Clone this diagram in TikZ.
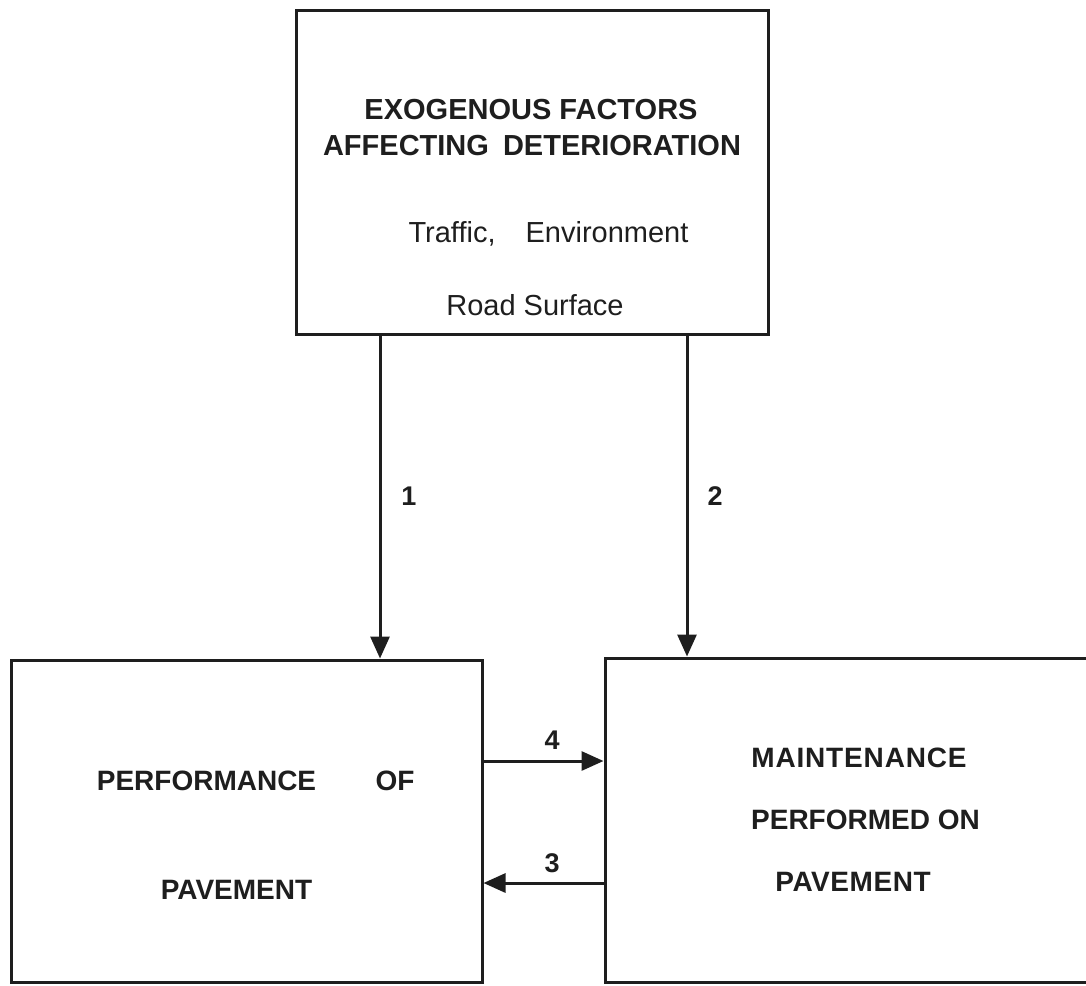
\documentclass[tikz,border=0pt]{standalone}
\usepackage{fontspec}
\setmainfont{Liberation Sans}
\usetikzlibrary{arrows.meta}
\definecolor{ink}{HTML}{1E1E1E}
\tikzset{
  box/.style={draw=ink, line width=3pt, rectangle, inner sep=0pt},
  conn/.style={draw=ink, line width=3pt, -{Triangle[length=22pt,width=19pt]}},
  head/.style={anchor=base, text=ink, font=\fontsize{29}{34}\selectfont\bfseries, inner sep=0pt},
  sub/.style={anchor=base, text=ink, font=\fontsize{29}{34}\selectfont, inner sep=0pt},
  body/.style={anchor=base, text=ink, font=\fontsize{28}{34}\selectfont\bfseries, inner sep=0pt},
  num/.style={anchor=base, text=ink, font=\fontsize{27}{32}\selectfont\bfseries, inner sep=0pt}
}
\begin{document}
\begin{tikzpicture}[x=1pt,y=-1pt]
\useasboundingbox (0,0) rectangle (1086,985);
\clip (0,0) rectangle (1086,985);
% boxes
\node[box, minimum width=472pt, minimum height=324pt] (top) at (532,172) {};
\node[box, minimum width=471pt, minimum height=322pt] (left) at (246.5,821) {};
\node[box, minimum width=540pt, minimum height=324pt] (right) at (875,820) {};
% top box text
\node[head] (t1) at (531,119) {EXOGENOUS FACTORS};
\node[head] (t2) at (532,155) {AFFECTING\hspace{6pt} DETERIORATION};
\node[sub] (t3) at (548.5,242.5) {Traffic,\hspace{22pt} Environment};
\node[sub] (t4) at (535,315.5) {Road Surface};
% left box text
\node[body] (l1) at (206.5,790) {PERFORMANCE};
\node[body] (l2) at (395,790) {OF};
\node[body] (l3) at (236.5,899) {PAVEMENT};
% right box text
\node[body] (r1) at (859,767.5) {\addfontfeature{LetterSpace=3}MAINTENANCE};
\node[body] (r2) at (865.5,829) {PERFORMED ON};
\node[body] (r3) at (853,891) {\addfontfeature{LetterSpace=2}PAVEMENT};
% connector anchors
\coordinate (x1) at (380,0);
\coordinate (x2) at (687,0);
\coordinate (y4) at (0,761);
\coordinate (y3) at (0,883);
% connectors
\draw[conn] (top.south -| x1) -- (left.north -| x1);
\draw[conn] (top.south -| x2) -- (right.north -| x2);
\draw[conn] (left.east |- y4) -- (right.west |- y4);
\draw[conn] (right.west |- y3) -- (left.east |- y3);
% labels
\node[num] (n1) at (409,505) {1};
\node[num] (n2) at (715,505) {2};
\node[num] (n4) at (552,749) {4};
\node[num] (n3) at (552,872) {3};
\end{tikzpicture}
\end{document}
